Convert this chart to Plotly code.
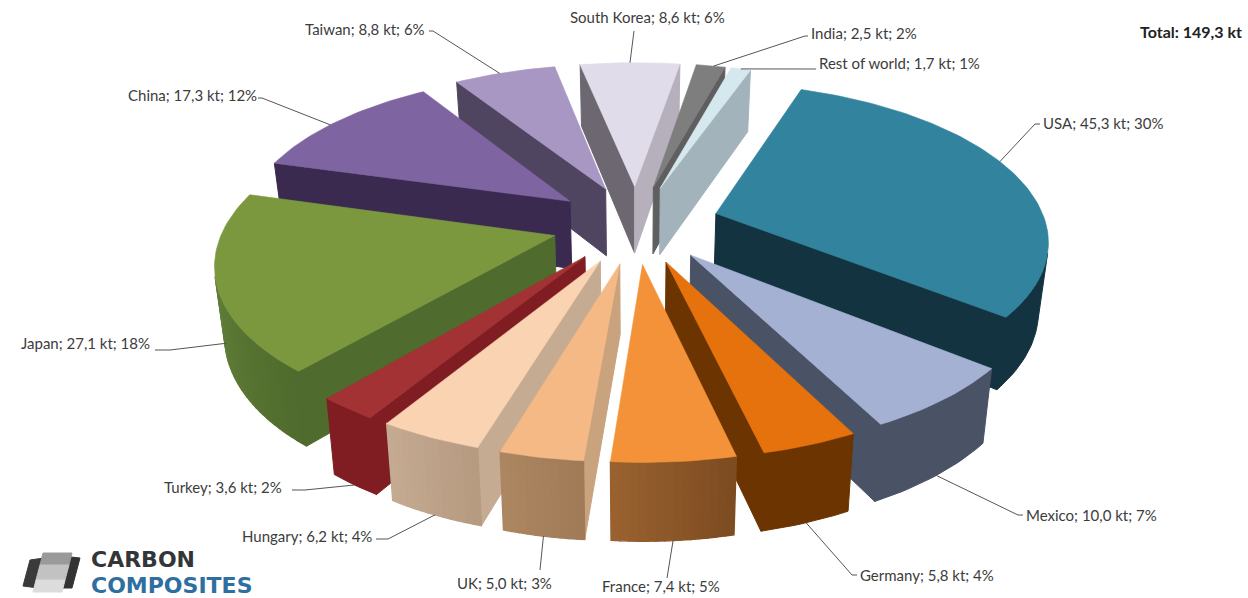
import math
import plotly.graph_objects as go

# Global carbon fibre demand by region, in kilotonnes
countries = ["USA", "Mexico", "Germany", "France", "UK", "Hungary", "Turkey",
             "Japan", "China", "Taiwan", "South Korea", "India", "Rest of world"]
values_kt = [45.3, 10.0, 5.8, 7.4, 5.0, 6.2, 3.6, 27.1, 17.3, 8.8, 8.6, 2.5, 1.7]

# Colours per slice: top, start cut face, end cut face, rim start, rim end
top_colors = ["#31839E", "#A5B1D3", "#E5720C", "#F39238", "#F5B986", "#FAD3B2", "#A23234",
              "#7C983F", "#7F64A2", "#A897C2", "#E1DCEA", "#7E7E7E", "#D5E8EE"]
start_faces = ["#12333F", "#4A5266", "#6B3400", "#C9873F", "#C9A27E", "#C5AB92", "#7F1D22",
               "#4F6B2D", "#3A2A50", "#4F4560", "#6C6770", "#6C6C6C", "#8A9298"]
end_faces = ["#12333F", "#4A5266", "#6B3400", "#7C4B20", "#A07A58", "#B59A80", "#7F1D22",
             "#4F6B2D", "#3A2A50", "#4F4560", "#B6B0BC", "#5F5F5F", "#A3B3BB"]
rim_starts = ["#12333F", "#4A5266", "#6B3400", "#7C4B20", "#A07A58", "#B59A80", "#7F1D22",
              "#4F6B2D", "#3A2A50", "#4F4560", "#6C6770", "#6C6C6C", "#A3B3BB"]
rim_ends = ["#12333F", "#4A5266", "#6B3400", "#9A6230", "#AD8661", "#C5AB92", "#7F1D22",
            "#6F8E42", "#3A2A50", "#4F4560", "#6C6770", "#6C6C6C", "#A3B3BB"]

# Label placement: text left edge, text centre y, leader elbow, and where the leader stops
label_layout = {
    "USA": (1041, 123, (1035, 124), 1040),
    "Mexico": (1024, 515, (1018, 515), 1023),
    "Germany": (858, 575, (852, 575), 857),
    "France": (600, 586, (667, 578), 667),
    "UK": (455, 583, (540, 570), 540),
    "Hungary": (240, 536, (388, 539), 376),
    "Turkey": (162, 487, (305, 490), 292),
    "Japan": (19, 343, (170, 350), 155),
    "China": (126, 95, (262, 98), 258),
    "Taiwan": (303, 29, (433, 31), 429),
    "South Korea": (568, 17, (634, 31), 634),
    "India": (809, 33, (805, 36), 808),
    "Rest of world": (817, 63, (812, 69), 816),
}
# Where each leader meets its slice: fraction across the rim, height down the wall
leader_attach = {
    "USA": (0.45, 0), "Mexico": (0.5, 1), "Germany": (0.5, 1), "France": (0.5, 1),
    "UK": (0.5, 1), "Hungary": (0.5, 1), "Turkey": (0.5, 1), "Japan": (0.45, 0.7),
    "China": (0.45, 0), "Taiwan": (0.45, 0), "South Korea": (0.5, 0),
    "India": (0.6, 0), "Rest of world": (0.5, 0),
}

# Projection of the tilted, exploded pie on to the page (pixel units)
CX, CY = 636, 224
RADIUS = 330
EXPLODE = 84
TILT = 0.465
PERSPECTIVE = 0.154
WALL = 70
WALL_SHRINK = 0.025
START_DEG = 19.5


def project(u, v, z=0.0):
    d = (1 + PERSPECTIVE * v / RADIUS) * (1 + WALL_SHRINK * z)
    return CX + u / d, CY - v * TILT / d + WALL * z / d


def lerp_color(c0, c1, t):
    a = [int(c0[i:i + 2], 16) for i in (1, 3, 5)]
    b = [int(c1[i:i + 2], 16) for i in (1, 3, 5)]
    return "#%02x%02x%02x" % tuple(round(p + (q - p) * t) for p, q in zip(a, b))


def signed_area(pts):
    return sum(pts[i][0] * pts[(i + 1) % len(pts)][1] - pts[(i + 1) % len(pts)][0] * pts[i][1]
               for i in range(len(pts))) / 2


fig = go.Figure()


def polygon(pts, color, edge=1.0):
    xs = [p[0] for p in pts] + [pts[0][0]]
    ys = [p[1] for p in pts] + [pts[0][1]]
    fig.add_trace(go.Scatter(x=xs, y=ys, mode="lines", fill="toself", fillcolor=color,
                             line=dict(color=color, width=edge), hoverinfo="skip",
                             showlegend=False))


total = sum(values_kt)
slices = []
cursor = START_DEG
for i, val in enumerate(values_kt):
    sweep = val / total * 360
    slices.append((i, cursor, cursor + sweep))
    cursor += sweep


def slice_point(a0, a1, ang, z=0.0):
    mid = math.radians((a0 + a1) / 2)
    ox, oy = EXPLODE * math.sin(mid), EXPLODE * math.cos(mid)
    if ang is None:
        return project(ox, oy, z)
    t = math.radians(ang)
    return project(ox + RADIUS * math.sin(t), oy + RADIUS * math.cos(t), z)


def faces_viewer(p, q):
    return signed_area([p[0], q[0], q[1], p[1]]) < 0


def draw_side(p, q, color, edge=1.0):
    # A side face is seen only when its outward side turns towards the viewer
    if faces_viewer(p, q):
        polygon([p[0], q[0], q[1], p[1]], color, edge)


# Far slices first so nearer ones paint over them
order = sorted(slices, key=lambda s: -math.cos(math.radians((s[1] + s[2]) / 2)))
for i, a0, a1 in order:
    apex = (slice_point(a0, a1, None), slice_point(a0, a1, None, 1))
    first = (slice_point(a0, a1, a0), slice_point(a0, a1, a0, 1))
    last = (slice_point(a0, a1, a1), slice_point(a0, a1, a1, 1))
    draw_side(apex, first, start_faces[i])
    draw_side(last, apex, end_faces[i])
    n = max(2, int((a1 - a0) / 1.2))
    angles = [a0 + (a1 - a0) * k / n for k in range(n + 1)]
    rim_pairs = [(slice_point(a0, a1, a), slice_point(a0, a1, a, 1)) for a in angles]
    solid = rim_starts[i] == rim_ends[i]
    if solid:
        # One outline for the seen part of an evenly coloured rim
        seen = [k for k in range(n) if faces_viewer(rim_pairs[k], rim_pairs[k + 1])]
        if seen:
            run = rim_pairs[seen[0]:seen[-1] + 2]
            polygon([pair[0] for pair in run] + [pair[1] for pair in reversed(run)], rim_starts[i])
    else:
        for k in range(n):
            draw_side(rim_pairs[k], rim_pairs[k + 1],
                      lerp_color(rim_starts[i], rim_ends[i], (k + 0.5) / n), edge=1.4)
    polygon([apex[0]] + [pair[0] for pair in rim_pairs], top_colors[i], edge=0.6)

# Leader lines and data labels
TEXT = "#3c3c3c"
LABEL_FONT = dict(family="Lato", size=15, color=TEXT)
annotations = []
for i, a0, a1 in slices:
    name = countries[i]
    x, y, elbow, stop = label_layout[name]
    frac, depth = leader_attach[name]
    start = slice_point(a0, a1, a0 + (a1 - a0) * frac, depth)
    fig.add_trace(go.Scatter(x=[start[0], elbow[0], stop], y=[start[1], elbow[1], elbow[1]],
                             mode="lines", line=dict(color="#555555", width=1),
                             hoverinfo="skip", showlegend=False))
    amount = f"{values_kt[i]:.1f}".replace(".", ",")
    share = round(values_kt[i] / total * 100)
    annotations.append(dict(x=x, y=y, text=f"{name}; {amount} kt; {share}%", showarrow=False,
                            xanchor="left", yanchor="middle", font=LABEL_FONT))

annotations.append(dict(x=1244, y=31, xanchor="right", yanchor="middle", showarrow=False,
                        text=f"<b>Total: {total:.1f} kt</b>".replace(".", ","),
                        font=dict(family="Lato", size=16, color="#222222")))

# Company mark in the lower left corner
polygon([(23, 586), (30, 560), (44, 558), (38, 588)], "#3a3a3a")
polygon([(62, 588), (71, 557), (80, 558), (72, 588)], "#333333")
polygon([(43, 553), (72, 553), (69, 565), (40, 565)], "#9a9a9a")
polygon([(40, 565), (69, 565), (65, 580), (36, 580)], "#c2c2c2")
polygon([(36, 580), (65, 580), (62, 592), (33, 592)], "#dcdcdc")
annotations.append(dict(x=89, y=559, xanchor="left", yanchor="middle", showarrow=False,
                        text="<b>CARBON</b>",
                        font=dict(family="DejaVu Sans", size=22, color="#333638")))
annotations.append(dict(x=89, y=585, xanchor="left", yanchor="middle", showarrow=False,
                        text="<b>COMPOSITES</b>",
                        font=dict(family="DejaVu Sans", size=22, color="#2F6F9F")))

fig.update_layout(
    width=1248, height=598, margin=dict(l=0, r=0, t=0, b=0),
    paper_bgcolor="white", plot_bgcolor="white", showlegend=False, annotations=annotations,
    xaxis=dict(range=[0, 1248], visible=False, fixedrange=True),
    yaxis=dict(range=[598, 0], visible=False, fixedrange=True),
)
fig.write_html("out.html", config=dict(displayModeBar=False))
